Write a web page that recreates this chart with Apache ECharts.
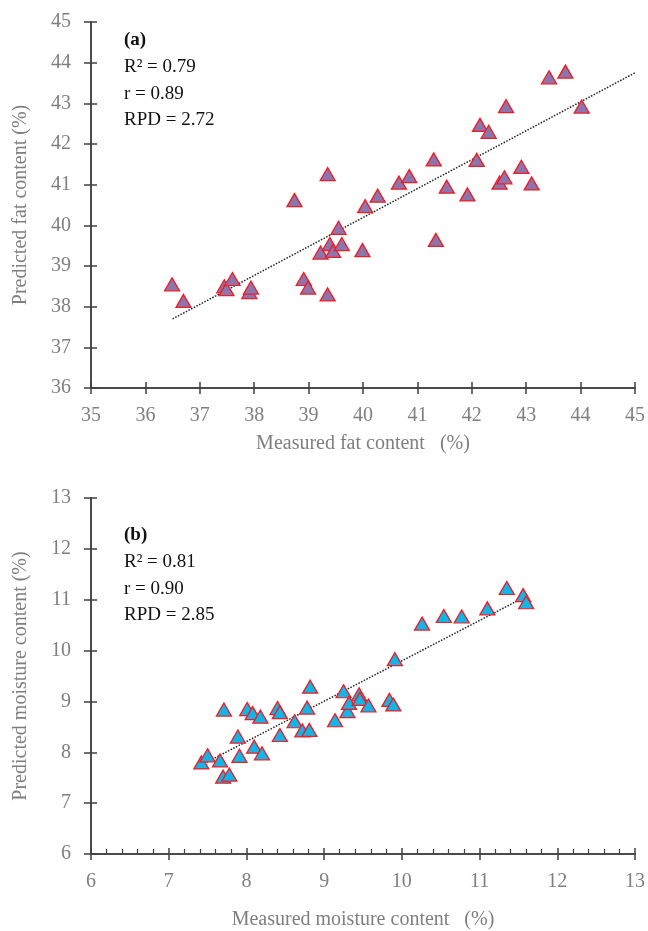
<!DOCTYPE html>
<html>
<head>
<meta charset="utf-8">
<script src="https://cdn.jsdelivr.net/npm/echarts@6/dist/echarts.min.js"></script>
<style>
  html, body { margin: 0; padding: 0; background: #fff; }
  #chart { width: 648px; height: 931px; }
</style>
</head>
<body>
<div id="chart"></div>
<script>
// (a) fat content: measured vs predicted
var fatPoints = [
  [36.49, 38.55], [36.70, 38.14], [37.45, 38.50], [37.49, 38.43], [37.60, 38.68],
  [37.91, 38.36], [37.94, 38.47], [38.74, 40.62], [38.91, 38.68], [38.99, 38.47],
  [39.22, 39.33], [39.35, 41.26], [39.35, 38.30], [39.39, 39.54], [39.45, 39.37],
  [39.55, 39.94], [39.61, 39.54], [39.99, 39.39], [40.04, 40.47], [40.27, 40.73],
  [40.66, 41.05], [40.85, 41.21], [41.30, 41.62], [41.34, 39.64], [41.54, 40.95],
  [41.92, 40.76], [42.09, 41.61], [42.15, 42.47], [42.31, 42.30], [42.51, 41.05],
  [42.60, 41.18], [42.63, 42.93], [42.91, 41.44], [43.10, 41.03], [43.42, 43.64],
  [43.72, 43.78], [44.02, 42.92]
];
var fatTrend = [[36.5, 37.70], [45.0, 43.75]];
var fatStats = ['(a)', 'R² = 0.79', 'r = 0.89', 'RPD = 2.72'];

// (b) moisture content: measured vs predicted
var moisturePoints = [
  [7.42, 7.80], [7.50, 7.94], [7.66, 7.84], [7.70, 7.52], [7.78, 7.56],
  [7.71, 8.84], [7.89, 8.31], [7.91, 7.93], [8.01, 8.85], [8.08, 8.77],
  [8.10, 8.11], [8.18, 8.70], [8.20, 7.98], [8.40, 8.87], [8.43, 8.79],
  [8.43, 8.34], [8.62, 8.61], [8.72, 8.43], [8.81, 8.44], [8.78, 8.88],
  [8.82, 9.29], [9.14, 8.63], [9.25, 9.20], [9.30, 8.81], [9.32, 8.97],
  [9.45, 9.14], [9.46, 9.05], [9.57, 8.92], [9.84, 9.03], [9.89, 8.94],
  [9.91, 9.83], [10.26, 10.53], [10.54, 10.68], [10.77, 10.67], [11.10, 10.83],
  [11.35, 11.23], [11.56, 11.09], [11.60, 10.95]
];
var moistureTrend = [[7.42, 7.75], [11.59, 11.06]];
var moistureStats = ['(b)', 'R² = 0.81', 'r = 0.90', 'RPD = 2.85'];

var serif = '"Liberation Serif", "DejaVu Serif", serif';
var axisColor = '#404040';
var labelColor = '#7f7f7f';

function xAxisPair(gridIndex, min, max, name, nameGap, minor) {
  var base = {
    type: 'value', gridIndex: gridIndex, min: min, max: max, interval: 1,
    position: 'bottom', offset: 0, splitLine: { show: false },
    axisLine: { onZero: false, lineStyle: { color: axisColor, width: 1.5 } }
  };
  return [
    Object.assign({}, base, {
      name: name, nameLocation: 'middle', nameGap: nameGap,
      nameTextStyle: { fontFamily: serif, fontSize: 20, color: labelColor },
      axisTick: { show: true, length: 6, lineStyle: { color: axisColor, width: 1.5 } },
      axisLabel: { fontFamily: serif, fontSize: 20, color: labelColor, margin: 18 }
    }),
    Object.assign({}, base, {
      axisTick: { show: true, inside: true, length: 6, lineStyle: { color: axisColor, width: 1.5 } },
      minorTick: { show: minor, splitNumber: 5, length: 5, lineStyle: { color: axisColor, width: 1.2 } },
      axisLabel: { show: false }
    })
  ];
}

function yAxisPair(gridIndex, min, max, name) {
  var base = {
    type: 'value', gridIndex: gridIndex, min: min, max: max, interval: 1,
    position: 'left', offset: 0, splitLine: { show: false },
    axisLine: { onZero: false, lineStyle: { color: axisColor, width: 1.5 } }
  };
  return [
    Object.assign({}, base, {
      name: name, nameLocation: 'middle', nameGap: 60,
      nameTextStyle: { fontFamily: serif, fontSize: 20, color: labelColor },
      axisTick: { show: true, length: 7, lineStyle: { color: axisColor, width: 1.5 } },
      axisLabel: { fontFamily: serif, fontSize: 20, color: labelColor, margin: 20 }
    }),
    Object.assign({}, base, {
      axisTick: { show: true, inside: true, length: 6, lineStyle: { color: axisColor, width: 1.5 } },
      axisLabel: { show: false }
    })
  ];
}

function statTexts(lines, x, yStart) {
  var ys = [0, 27, 54, 80];
  return lines.map(function (t, i) {
    return {
      type: 'text', left: x, top: yStart + ys[i],
      style: {
        text: t, fill: '#111',
        font: (i === 0 ? 'bold ' : '') + '19px ' + serif
      }
    };
  });
}

var chart = echarts.init(document.getElementById('chart'));

var xAxes = xAxisPair(0, 35, 45, 'Measured fat content   (%)', 46, false)
  .concat(xAxisPair(1, 6, 13, 'Measured moisture content   (%)', 56, true));
var yAxes = yAxisPair(0, 36, 45, 'Predicted fat content (%)')
  .concat(yAxisPair(1, 6, 13, 'Predicted moisture content (%)'));

var option = {
  animation: false,
  backgroundColor: '#fff',
  grid: [
    { left: 91, top: 22, width: 545, height: 366 },
    { left: 91, top: 498, width: 545, height: 359 }
  ],
  xAxis: xAxes,
  yAxis: yAxes,
  graphic: statTexts(fatStats, 124, 31).concat(statTexts(moistureStats, 124, 526)),
  series: [
    {
      type: 'line', xAxisIndex: 0, yAxisIndex: 0, data: fatTrend,
      symbol: 'none', silent: true, z: 1,
      lineStyle: { color: '#222', width: 1.5, type: [1.5, 1.5] }
    },
    {
      type: 'scatter', xAxisIndex: 0, yAxisIndex: 0, data: fatPoints,
      symbol: 'triangle', symbolSize: [15, 13], z: 2,
      itemStyle: { color: '#8c74ad', borderColor: '#f01c24', borderWidth: 1.3, opacity: 1 }
    },
    {
      type: 'line', xAxisIndex: 2, yAxisIndex: 2, data: moistureTrend,
      symbol: 'none', silent: true, z: 1,
      lineStyle: { color: '#222', width: 1.5, type: [1.5, 1.5] }
    },
    {
      type: 'scatter', xAxisIndex: 2, yAxisIndex: 2, data: moisturePoints,
      symbol: 'triangle', symbolSize: [15, 13], z: 2,
      itemStyle: { color: '#10b6e8', borderColor: '#f01c24', borderWidth: 1.3, opacity: 1 }
    }
  ]
};

chart.setOption(option);
</script>
</body>
</html>
